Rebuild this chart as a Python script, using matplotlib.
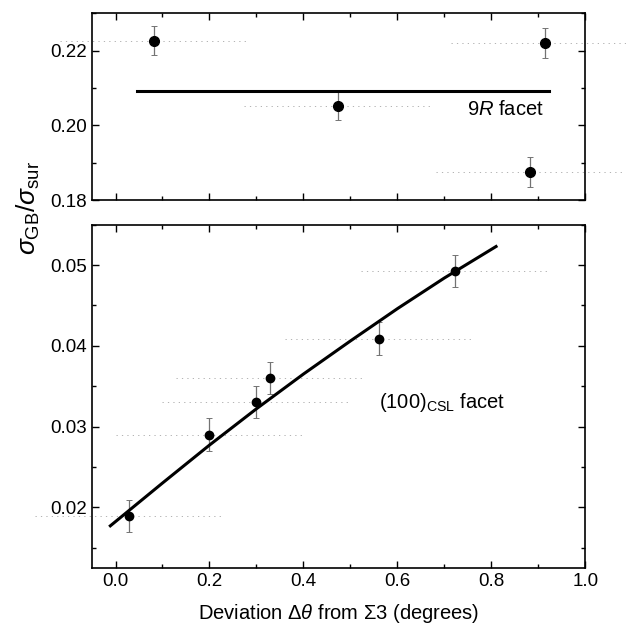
import matplotlib
matplotlib.use('Agg')
import matplotlib.pyplot as plt
from matplotlib.ticker import MultipleLocator, FormatStrFormatter

plt.rcParams['font.family'] = ['Liberation Sans', 'DejaVu Sans']
plt.rcParams['mathtext.fontset'] = 'custom'
plt.rcParams['mathtext.rm'] = 'Liberation Sans'
plt.rcParams['mathtext.it'] = 'Liberation Sans:italic'
plt.rcParams['mathtext.sf'] = 'Liberation Sans'

# 9R facet (top panel)
top_x = [0.082, 0.474, 0.915, 0.883]
top_y = [0.2227, 0.2053, 0.2221, 0.1875]
top_yerr = [0.004, 0.004, 0.004, 0.004]
top_xerr = [0.2, 0.2, 0.2, 0.2]
top_fit_x = [0.045, 0.923]
top_fit_y = [0.2092, 0.2092]

# (100)CSL facet (bottom panel)
bot_x = [0.029, 0.200, 0.300, 0.329, 0.561, 0.722]
bot_y = [0.0189, 0.0290, 0.0330, 0.0360, 0.0409, 0.0493]
bot_yerr = [0.002, 0.002, 0.002, 0.002, 0.002, 0.002]
bot_xerr = [0.2, 0.2, 0.2, 0.2, 0.2, 0.2]
bot_fit_x = [-0.011, 0.1, 0.2, 0.3, 0.4, 0.5, 0.6, 0.7, 0.81]
bot_fit_y = [0.0177, 0.0230, 0.0277, 0.0322, 0.0365, 0.0406, 0.0446, 0.0484, 0.0523]

fig = plt.figure(figsize=(6.26, 6.33), dpi=100)
ax1 = fig.add_axes([0.147, 0.684, 0.788, 0.295])
ax2 = fig.add_axes([0.147, 0.103, 0.788, 0.542])


def style(ax):
    for s in ax.spines.values():
        s.set_linewidth(1.2)
    ax.set_xlim(-0.05, 1.0)
    ax.xaxis.set_major_locator(MultipleLocator(0.2))
    ax.xaxis.set_minor_locator(MultipleLocator(0.1))
    ax.tick_params(which='both', direction='in', top=True, right=True,
                   labelsize=13.5, width=1)
    ax.tick_params(which='major', length=5)
    ax.tick_params(which='minor', length=3)


def points(ax, x, y, xerr, yerr, ms):
    eh = ax.errorbar(x, y, xerr=xerr, fmt='none', ecolor='0.65',
                     elinewidth=0.6, clip_on=False)
    eh[2][0].set_linestyle((0, (1.5, 5)))
    eh[2][0].set_clip_on(False)
    ax.errorbar(x, y, yerr=yerr, fmt='none', ecolor='0.45',
                elinewidth=0.9, capsize=2, capthick=0.7)
    ax.plot(x, y, 'o', color='black', markersize=ms, zorder=5)


style(ax1)
ax1.set_ylim(0.18, 0.23)
ax1.yaxis.set_major_locator(MultipleLocator(0.02))
ax1.yaxis.set_minor_locator(MultipleLocator(0.01))
ax1.yaxis.set_major_formatter(FormatStrFormatter('%.2f'))
ax1.tick_params(axis='x', labelbottom=False)
points(ax1, top_x, top_y, top_xerr, top_yerr, 7)
ax1.plot(top_fit_x, top_fit_y, color='black', linewidth=2.2)
ax1.text(0.83, 0.2042, r'9$\it{R}$ facet', fontsize=14.5, ha='center', va='center')

style(ax2)
ax2.set_ylim(0.0125, 0.055)
ax2.yaxis.set_major_locator(MultipleLocator(0.01))
ax2.yaxis.set_minor_locator(MultipleLocator(0.005))
ax2.yaxis.set_major_formatter(FormatStrFormatter('%.2f'))
points(ax2, bot_x, bot_y, bot_xerr, bot_yerr, 6)
ax2.plot(bot_fit_x, bot_fit_y, color='black', linewidth=2.2)
ax2.text(0.56, 0.0330, r'(100)$_{\rm CSL}$ facet', fontsize=14.5, ha='left', va='center')

ax2.set_xlabel(r'Deviation $\Delta\theta$ from $\Sigma$3 (degrees)', fontsize=14.5, labelpad=9)
fig.text(0.045, 0.671, r'$\sigma_{\rm GB}/\sigma_{\rm sur}$', rotation=90,
         fontsize=19, ha='center', va='center')

fig.savefig('out.png', dpi=100)
